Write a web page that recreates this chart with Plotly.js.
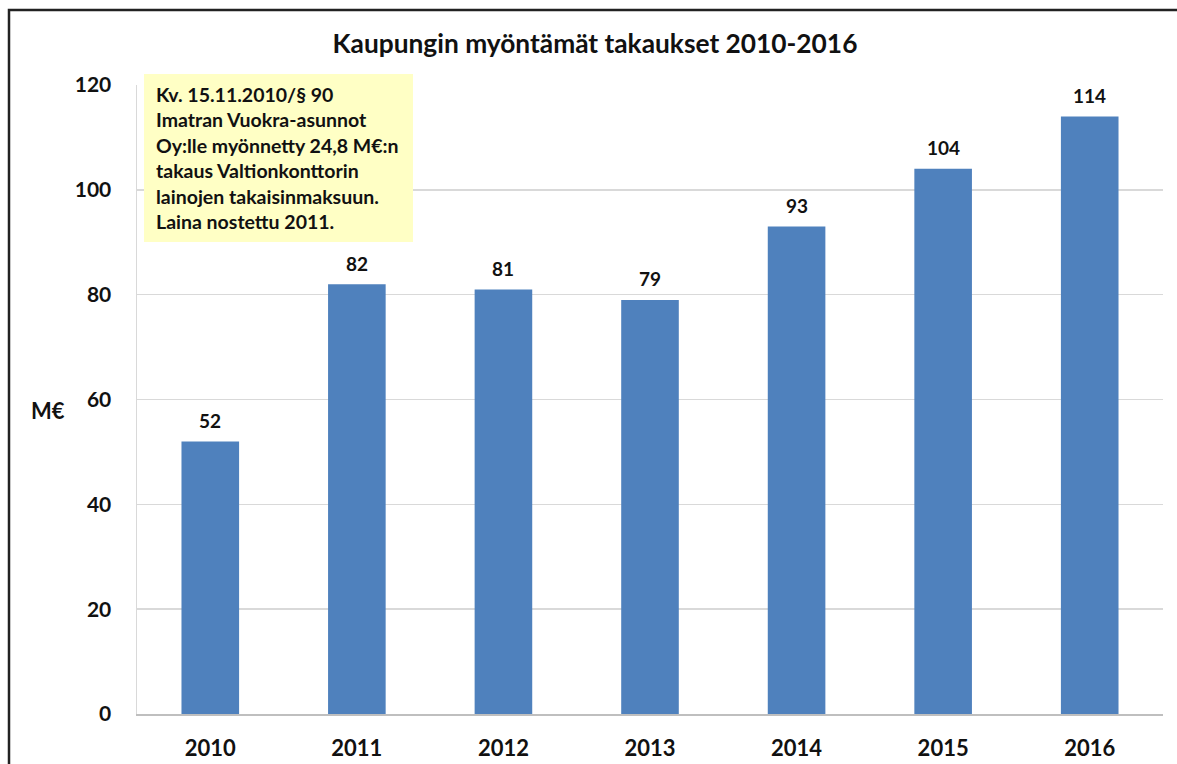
<!DOCTYPE html>
<html>
<head>
<meta charset="utf-8">
<script src="https://cdn.plot.ly/plotly-3.0.1.min.js"></script>
<style>html,body{margin:0;padding:0;background:#fff;}#chart{width:1177px;height:764px;}</style>
</head>
<body>
<div id="chart"></div>
<script>
const years = ["2010", "2011", "2012", "2013", "2014", "2015", "2016"];
const guarantees = [52, 82, 81, 79, 93, 104, 114];
const valueLabels = ["52", "82", "81", "79", "93", "104", "114"];
const yTicks = [0, 20, 40, 60, 80, 100, 120];
const titleText = "Kaupungin myöntämät takaukset 2010-2016";
const yTitleText = "M€";
const noteText = "Kv. 15.11.2010/§ 90<br>Imatran Vuokra-asunnot<br>Oy:lle myönnetty 24,8 M€:n<br>takaus Valtionkonttorin<br>lainojen takaisinmaksuun.<br>Laina nostettu 2011.";

const FONT = "Lato, 'Open Sans', sans-serif";
const L = 137, R = 1163, T = 85, B = 714;
const pw = R - L, ph = B - T;
const px = x => (x - L) / pw;
const py = y => (B - y) / ph;

const trace = {
  type: "bar",
  x: years,
  y: guarantees,
  marker: {color: "#4F81BD", line: {width: 0}},
  width: 0.393,
  hoverinfo: "x+y"
};

// category axis: annotation x given as the category index
const valueAnnotations = years.map((yr, i) => ({
  x: i, y: guarantees[i], xref: "x", yref: "y",
  text: "<b>" + valueLabels[i] + "</b>", showarrow: false,
  xanchor: "center", yanchor: "middle", yshift: 21,
  font: {family: FONT, size: 19, color: "#111"}
}));

const layout = {
  width: 1177, height: 764,
  margin: {l: L, r: 1177 - R, t: T, b: 764 - B},
  paper_bgcolor: "#fff", plot_bgcolor: "#fff",
  showlegend: false,
  font: {family: FONT, color: "#111"},
  title: {text: "<b>" + titleText + "</b>", x: 595/1177, xref: "container", xanchor: "center", y: 1 - 44/764, yref: "container", yanchor: "middle", font: {family: FONT, size: 26.3, color: "#111"}},
  xaxis: {
    type: "category",
    categoryarray: years, categoryorder: "array",
    showline: true, linecolor: "#BFBFBF", linewidth: 1.5,
    ticks: "", ticklabelstandoff: 14,
    tickfont: {family: FONT, size: 22, color: "#111", weight: "bold"},
    showgrid: false, zeroline: false, fixedrange: true
  },
  yaxis: {
    range: [0, 120], tickvals: yTicks,
    showline: true, linecolor: "#D9D9D9", linewidth: 1.5,
    ticks: "", ticklabelstandoff: 20,
    tickfont: {family: FONT, size: 21, color: "#111", weight: "bold"},
    showgrid: true, gridcolor: "#D9D9D9", gridwidth: 1.5,
    zeroline: false, fixedrange: true
  },
  shapes: [
    {type: "path", xref: "paper", yref: "paper",
     path: "M " + px(9) + " " + py(780) + " L " + px(9) + " " + py(10) + " L " + px(1200) + " " + py(10),
     line: {color: "#222", width: 2.5}}
  ],
  annotations: [
    {xref: "paper", yref: "paper", x: px(48), y: py(410), text: "<b>" + yTitleText + "</b>", showarrow: false,
     xanchor: "center", yanchor: "middle", font: {family: FONT, size: 22, color: "#111"}},
    {xref: "paper", yref: "paper", x: px(144), y: py(74), xanchor: "left", yanchor: "top",
     text: "<b>" + noteText + "</b>", showarrow: false, align: "left",
     font: {family: FONT, size: 19.5, color: "#111"},
     bgcolor: "#FFFFC5", borderpad: 12, borderwidth: 0, width: 245, height: 144, valign: "middle"}
  ].concat(valueAnnotations)
};

Plotly.newPlot("chart", [trace], layout, {displayModeBar: false, staticPlot: true});
</script>
</body>
</html>
